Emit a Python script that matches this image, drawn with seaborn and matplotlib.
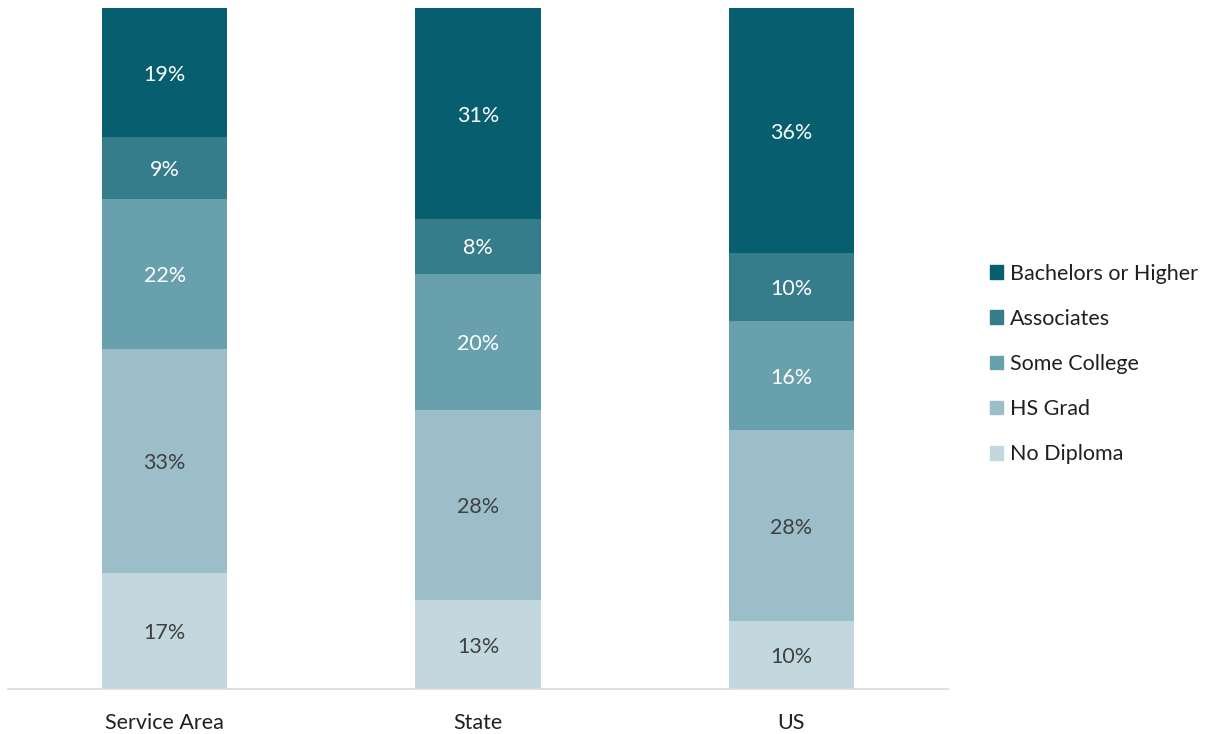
import numpy as np
import pandas as pd
import matplotlib
matplotlib.use("Agg")
import matplotlib.pyplot as plt
import seaborn as sns
from matplotlib.patches import Patch

categories = ["Service Area", "State", "US"]
levels = ["No Diploma", "HS Grad", "Some College", "Associates", "Bachelors or Higher"]
no_diploma = [17, 13, 10]
hs_grad = [33, 28, 28]
some_college = [22, 20, 16]
associates = [9, 8, 10]
bachelors = [19, 31, 36]

colors = ["#C3D8DE", "#9BBEC8", "#69A0AD", "#367D8C", "#065E6F"]
label_colors = ["#404040", "#404040", "white", "white", "white"]

sns.set_style("white")
plt.rcParams["font.family"] = ["Lato", "DejaVu Sans"]

values = np.array([no_diploma, hs_grad, some_college, associates, bachelors])
tops = values.cumsum(axis=0)

fig = plt.figure(figsize=(12.06, 7.34), dpi=100)
ax = fig.add_axes([8 / 1206, 45 / 734, 940 / 1206, 681 / 734])

# draw cumulative totals from the top down so each layer covers the one above it
for i in reversed(range(len(levels))):
    df = pd.DataFrame({"cat": categories, "top": tops[i]})
    sns.barplot(data=df, x="cat", y="top", color=colors[i], width=0.4,
                saturation=1, ax=ax, linewidth=0, errorbar=None)

for i in range(len(levels)):
    for j in range(len(categories)):
        mid = tops[i][j] - values[i][j] / 2
        ax.text(j, mid, f"{values[i][j]}%", ha="center", va="center_baseline",
                fontsize=15.5, color=label_colors[i])

ax.set_xlim(-0.5, 2.5)
ax.set_ylim(0, 100)
ax.set_xlabel("")
ax.set_ylabel("")
ax.set_yticks([])
ax.tick_params(axis="x", length=0, labelsize=15.5, pad=17, labelcolor="#202020")
for s in ["top", "right", "left"]:
    ax.spines[s].set_visible(False)
ax.spines["bottom"].set_color("#D9D9D9")
ax.spines["bottom"].set_linewidth(1.2)

handles = [Patch(color=colors[i], label=levels[i]) for i in reversed(range(len(levels)))]
fig.legend(handles=handles, loc="center left", bbox_to_anchor=(971 / 1206, 1 - 364 / 734),
           frameon=False, fontsize=15.5, handlelength=0.6, handleheight=0.6,
           handletextpad=0.33, labelspacing=1.17, labelcolor="#202020")

fig.savefig("out.png", dpi=100)
